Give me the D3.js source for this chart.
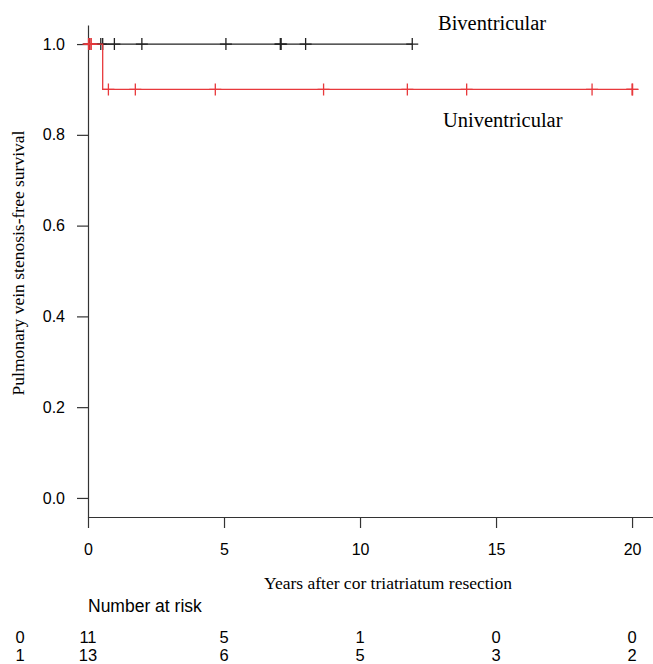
<!DOCTYPE html>
<html>
<head>
<meta charset="utf-8">
<script src="https://cdn.jsdelivr.net/npm/d3@7"></script>
<style>
  body { margin: 0; background: #fff; }
  svg { display: block; }
  .sans { font-family: "Liberation Sans", Arial, sans-serif; }
  .serif { font-family: "Liberation Serif", "Times New Roman", serif; }
</style>
</head>
<body>
<svg id="chart" width="653" height="664"></svg>
<script>
// Kaplan-Meier data (years)
var groups = ['Biventricular', 'Univentricular'];
var riskLabels = ['0', '1'];

// step points: [time, survival]
var biSteps = [[0, 1.0], [11.92, 1.0]];
var uniSteps = [[0, 1.0], [0.54, 1.0], [0.54, 0.9], [20.02, 0.9]];

// censor marks: [time, survival]
var biCensor = [[0.03, 1.0], [0.06, 1.0], [0.47, 1.0], [0.54, 1.0], [0.97, 1.0], [1.98, 1.0],
                [5.07, 1.0], [7.07, 1.0], [7.1, 1.0], [8.0, 1.0], [11.92, 1.0]];
var uniCensor = [[0.02, 1.0], [0.07, 1.0], [0.12, 1.0], [0.75, 0.9], [1.74, 0.9], [4.68, 0.9],
                 [8.66, 0.9], [11.74, 0.9], [13.92, 0.9], [18.53, 0.9], [20.0, 0.9], [20.02, 0.9]];

var xTicks = [0, 5, 10, 15, 20];
var yTicks = [0, 0.2, 0.4, 0.6, 0.8, 1.0];
var riskTimes = [0, 5, 10, 15, 20];
var riskBi = [11, 5, 1, 0, 0];
var riskUni = [13, 6, 5, 3, 2];

var svg = d3.select('#chart');

var x = d3.scaleLinear().domain([0, 20.77]).range([88, 653]);
var y = d3.scaleLinear().domain([-0.042, 1.042]).range([517, 25]);

// axes
var xAxis = svg.append('g')
  .attr('transform', 'translate(0,517)')
  .call(d3.axisBottom(x).tickValues(xTicks).tickSize(11).tickSizeOuter(0).tickFormat(d3.format('d')));
xAxis.selectAll('text').attr('class', 'sans').attr('font-size', 16).attr('y', 27).attr('dy', '0.71em').attr('fill', '#000');

var yAxis = svg.append('g')
  .attr('transform', 'translate(88,0)')
  .call(d3.axisLeft(y).tickValues(yTicks).tickSize(11).tickSizeOuter(0).tickFormat(d3.format('.1f')));
yAxis.selectAll('text').attr('class', 'sans').attr('font-size', 16).attr('x', -23).attr('fill', '#000');

svg.selectAll('.domain, .tick line').attr('stroke', '#333').attr('stroke-width', 1.2);

// curves
var line = d3.line().x(function (d) { return x(d[0]); }).y(function (d) { return y(d[1]); });

var series = [
  { steps: biSteps, censor: biCensor, color: '#222' },
  { steps: uniSteps, censor: uniCensor, color: '#e8393c' }
];

series.forEach(function (s) {
  svg.append('path')
    .datum(s.steps)
    .attr('d', line)
    .attr('fill', 'none')
    .attr('stroke', s.color)
    .attr('stroke-width', 1.3);

  var marks = svg.append('g');
  marks.selectAll('path')
    .data(s.censor)
    .enter().append('path')
    .attr('d', function (d) {
      var cx = x(d[0]), cy = y(d[1]);
      return 'M' + (cx - 6) + ',' + cy + 'H' + (cx + 6) + 'M' + cx + ',' + (cy - 6) + 'V' + (cy + 6);
    })
    .attr('stroke', s.color)
    .attr('stroke-width', 1.3);
});

// group labels
svg.append('text').attr('class', 'serif').attr('font-size', 20.5)
  .attr('x', 438).attr('y', 30).text(groups[0]);
svg.append('text').attr('class', 'serif').attr('font-size', 20.5)
  .attr('x', 443).attr('y', 127).text(groups[1]);

// axis titles
svg.append('text').attr('class', 'serif').attr('font-size', 17.5)
  .attr('text-anchor', 'middle')
  .attr('x', 388).attr('y', 589)
  .text('Years after cor triatriatum resection');

svg.append('text').attr('class', 'serif').attr('font-size', 17.5)
  .attr('text-anchor', 'middle')
  .attr('transform', 'translate(24,263) rotate(-90)')
  .text('Pulmonary vein stenosis-free survival');

// number at risk table
svg.append('text').attr('class', 'sans').attr('font-size', 17.5)
  .attr('x', 88).attr('y', 612).text('Number at risk');

var rows = [riskBi, riskUni];
rows.forEach(function (r, i) {
  var rowY = 643 + i * 18;
  svg.append('text').attr('class', 'sans').attr('font-size', 16.5)
    .attr('x', 20).attr('y', rowY).attr('text-anchor', 'middle').text(riskLabels[i]);
  svg.append('g').selectAll('text')
    .data(r)
    .enter().append('text')
    .attr('class', 'sans').attr('font-size', 16.5)
    .attr('text-anchor', 'middle')
    .attr('x', function (d, j) { return x(riskTimes[j]); })
    .attr('y', rowY)
    .text(function (d) { return d; });
});
</script>
</body>
</html>
